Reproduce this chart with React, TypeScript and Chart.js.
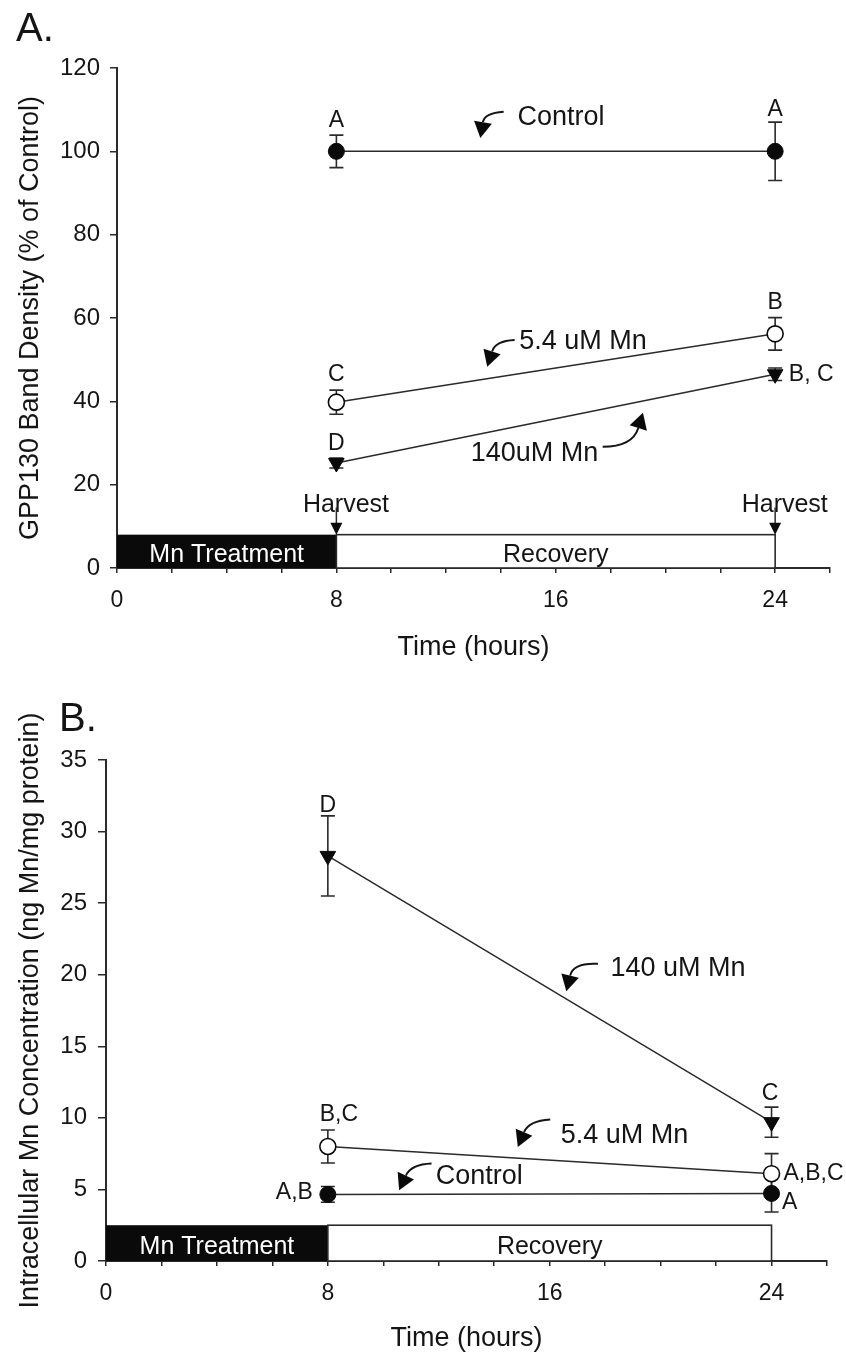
import React, { useEffect, useRef } from 'react';
import { Chart, registerables } from 'chart.js';

Chart.register(...registerables);

const FONT = "'Liberation Sans', Arial, Helvetica, sans-serif";
const INK = '#151515';
const LINE = '#2a2a2a';

// ---------- shared ----------
const hours = [8, 24];
const xTickLabels = [0, 8, 16, 24];
const treatmentSpan = [0, 8];
const recoverySpan = [8, 24];
const harvestTimes = [8, 24];

// ---------- Panel A : GPP130 band density ----------
const gppControl = [100, 100];
const gppControlErr = [3.9, 7.0];
const gpp54 = [39.8, 56.2];
const gpp54Err = [2.9, 3.9];
const gpp140 = [25.2, 46.5];
const gpp140Err = [1.2, 1.5];
const yTicksA = [0, 20, 40, 60, 80, 100, 120];

// ---------- Panel B : intracellular Mn ----------
const mnControl = [4.65, 4.72];
const mnControlErr = [0.55, 1.3];
const mn54 = [8.0, 6.1];
const mn54Err = [1.15, 1.4];
const mn140 = [28.3, 9.7];
const mn140Err = [2.8, 1.05];
const yTicksB = [0, 5, 10, 15, 20, 25, 30, 35];

// significance letters (data coordinates)
const lettersA = [
  { t: 'A', x: 8, y: 107.4, align: 'center' },
  { t: 'A', x: 24, y: 110, align: 'center' },
  { t: 'B', x: 24, y: 63.7, align: 'center' },
  { t: 'C', x: 8, y: 46.4, align: 'center' },
  { t: 'D', x: 8, y: 29.9, align: 'center' },
  { t: 'B, C', x: 24.5, y: 46.4, align: 'left' },
];
const lettersB = [
  { t: 'D', x: 8, y: 31.8, align: 'center' },
  { t: 'C', x: 23.95, y: 11.7, align: 'center' },
  { t: 'B,C', x: 8.4, y: 10.2, align: 'center' },
  { t: 'A,B,C', x: 24.43, y: 6.1, align: 'left' },
  { t: 'A,B', x: 7.46, y: 4.74, align: 'right' },
  { t: 'A', x: 24.38, y: 4.1, align: 'left' },
];

// series labels with curved arrows (data coordinates)
const notesA = [
  { t: 'Control', x: 14.6, y: 108 },
  { t: '5.4 uM Mn', x: 14.67, y: 54.3 },
  { t: '140uM Mn', x: 12.9, y: 27.5 },
];
const arrowsA = [
  { x0: 14.1, y0: 109.5, cx: 13.4, cy: 109.2, x1: 13.25, y1: 103.2 },
  { x0: 14.5, y0: 54.7, cx: 13.8, cy: 54.5, x1: 13.5, y1: 48.3 },
  { x0: 17.71, y0: 29.1, cx: 18.8, cy: 29.1, x1: 19.18, y1: 37.27 },
];
const notesB = [
  { t: '140 uM Mn', x: 18.19, y: 20.45 },
  { t: '5.4 uM Mn', x: 16.4, y: 8.79 },
  { t: 'Control', x: 11.89, y: 5.88 },
];
const arrowsB = [
  { x0: 17.74, y0: 20.76, cx: 16.85, cy: 20.85, x1: 16.6, y1: 18.85 },
  { x0: 16.02, y0: 9.88, cx: 15.25, cy: 9.8, x1: 14.85, y1: 7.97 },
  { x0: 11.74, y0: 6.81, cx: 11.0, cy: 6.75, x1: 10.57, y1: 4.95 },
];

type Series = { name: string; values: number[]; err: number[]; marker: 'filled' | 'open' | 'triangle' };

const panelA = {
  tag: 'A.',
  tagPos: [16, 41],
  yMax: 120,
  yTicks: yTicksA,
  yTitle: 'GPP130 Band Density (% of Control)',
  series: [
    { name: 'Control', values: gppControl, err: gppControlErr, marker: 'filled' },
    { name: '5.4 uM Mn', values: gpp54, err: gpp54Err, marker: 'open' },
    { name: '140 uM Mn', values: gpp140, err: gpp140Err, marker: 'triangle' },
  ] as Series[],
  letters: lettersA,
  notes: notesA,
  arrows: arrowsA,
  bandTop: 8,
  bandTextY: 3.0,
  harvest: { textY: 15.1, textDx: 0.35, lineFrom: 14.5 },
  layout: { top: 68, right: 16, bottom: 16 },
  yWidth: 117,
  xHeight: 96,
  yTickPad: 10,
  yTickLen: 7,
  xTickPad: 14,
  yTitlePad: 14,
};

const panelB = {
  tag: 'B.',
  tagPos: [59, 51],
  yMax: 35,
  yTicks: yTicksB,
  yTitle: 'Intracellular Mn Concentration (ng Mn/mg protein)',
  series: [
    { name: 'Control', values: mnControl, err: mnControlErr, marker: 'filled' },
    { name: '5.4 uM Mn', values: mn54, err: mn54Err, marker: 'open' },
    { name: '140 uM Mn', values: mn140, err: mn140Err, marker: 'triangle' },
  ] as Series[],
  letters: lettersB,
  notes: notesB,
  arrows: arrowsB,
  bandTop: 2.5,
  bandTextY: 0.98,
  harvest: null as null | { textY: number; textDx: number; lineFrom: number },
  layout: { top: 80, right: 19, bottom: 0 },
  yWidth: 106,
  xHeight: 94,
  yTickPad: 11,
  yTickLen: 8,
  xTickPad: 14,
  yTitlePad: 14.8,
};

type Panel = typeof panelA;

function arrowHead(ctx: CanvasRenderingContext2D, tx: number, ty: number, fx: number, fy: number, len: number, half: number) {
  const dx = tx - fx;
  const dy = ty - fy;
  const d = Math.hypot(dx, dy) || 1;
  const ux = dx / d;
  const uy = dy / d;
  const bx = tx - ux * len;
  const by = ty - uy * len;
  ctx.beginPath();
  ctx.moveTo(tx, ty);
  ctx.lineTo(bx - uy * half, by + ux * half);
  ctx.lineTo(bx + uy * half, by - ux * half);
  ctx.closePath();
  ctx.fill();
  return [bx, by];
}

function makeDecor(p: Panel) {
  return {
    id: 'decor' + p.tag,
    beforeDatasetsDraw(chart: any) {
      const { ctx } = chart;
      const xs = chart.scales.x;
      const ys = chart.scales.y;
      ctx.save();
      // time bar
      const y0 = ys.getPixelForValue(0);
      const y1 = ys.getPixelForValue(p.bandTop);
      const tA = xs.getPixelForValue(treatmentSpan[0]);
      const tB = xs.getPixelForValue(treatmentSpan[1]);
      const rB = xs.getPixelForValue(recoverySpan[1]);
      ctx.fillStyle = '#0a0a0a';
      ctx.fillRect(tA, y1, tB - tA, y0 - y1);
      ctx.fillStyle = '#fff';
      ctx.fillRect(tB, y1, rB - tB, y0 - y1);
      ctx.strokeStyle = LINE;
      ctx.lineWidth = 1.6;
      ctx.strokeRect(tB, y1, rB - tB, y0 - y1);
      ctx.font = `25px ${FONT}`;
      ctx.textBaseline = 'middle';
      ctx.textAlign = 'center';
      const ty = ys.getPixelForValue(p.bandTextY);
      ctx.fillStyle = '#fff';
      ctx.fillText('Mn Treatment', xs.getPixelForValue((treatmentSpan[0] + treatmentSpan[1]) / 2), ty);
      ctx.fillStyle = INK;
      ctx.fillText('Recovery', xs.getPixelForValue((recoverySpan[0] + recoverySpan[1]) / 2), ty);

      // harvest markers
      if (p.harvest) {
        const h = p.harvest;
        harvestTimes.forEach((t) => {
          const px = xs.getPixelForValue(t);
          const top = ys.getPixelForValue(h.lineFrom);
          const tip = ys.getPixelForValue(p.bandTop);
          ctx.fillStyle = INK;
          ctx.font = `25px ${FONT}`;
          ctx.textAlign = 'center';
          ctx.fillText('Harvest', xs.getPixelForValue(t + h.textDx), ys.getPixelForValue(h.textY));
          ctx.strokeStyle = LINE;
          ctx.lineWidth = 1.5;
          ctx.beginPath();
          ctx.moveTo(px, top);
          ctx.lineTo(px, tip - 10);
          ctx.stroke();
          ctx.fillStyle = '#0a0a0a';
          arrowHead(ctx, px, tip, px, top, 12, 6);
        });
      }

      // error bars
      ctx.strokeStyle = LINE;
      ctx.lineWidth = 1.6;
      p.series.forEach((s) => {
        hours.forEach((h, i) => {
          const px = xs.getPixelForValue(h);
          const a = ys.getPixelForValue(s.values[i] + s.err[i]);
          const b = ys.getPixelForValue(s.values[i] - s.err[i]);
          ctx.beginPath();
          ctx.moveTo(px, a);
          ctx.lineTo(px, b);
          ctx.moveTo(px - 7, a);
          ctx.lineTo(px + 7, a);
          ctx.moveTo(px - 7, b);
          ctx.lineTo(px + 7, b);
          ctx.stroke();
        });
      });
      ctx.restore();
    },
    afterDatasetsDraw(chart: any) {
      const { ctx } = chart;
      const xs = chart.scales.x;
      const ys = chart.scales.y;
      ctx.save();
      ctx.fillStyle = INK;
      ctx.textBaseline = 'middle';
      ctx.font = `23px ${FONT}`;
      p.letters.forEach((l) => {
        ctx.textAlign = l.align as CanvasTextAlign;
        ctx.fillText(l.t, xs.getPixelForValue(l.x), ys.getPixelForValue(l.y));
      });
      ctx.font = `27px ${FONT}`;
      ctx.textAlign = 'left';
      p.notes.forEach((n) => {
        ctx.fillText(n.t, xs.getPixelForValue(n.x), ys.getPixelForValue(n.y));
      });
      ctx.strokeStyle = INK;
      ctx.fillStyle = '#0a0a0a';
      ctx.lineWidth = 2;
      p.arrows.forEach((a) => {
        const sx = xs.getPixelForValue(a.x0);
        const sy = ys.getPixelForValue(a.y0);
        const cx = xs.getPixelForValue(a.cx);
        const cy = ys.getPixelForValue(a.cy);
        const tx = xs.getPixelForValue(a.x1);
        const ty = ys.getPixelForValue(a.y1);
        const [bx, by] = arrowHead(ctx, tx, ty, cx, cy, 16, 9);
        ctx.beginPath();
        ctx.moveTo(sx, sy);
        ctx.quadraticCurveTo(cx, cy, bx, by);
        ctx.stroke();
      });
      // panel tag
      ctx.font = `40px ${FONT}`;
      ctx.textBaseline = 'alphabetic';
      ctx.textAlign = 'left';
      ctx.fillStyle = INK;
      ctx.fillText(p.tag, p.tagPos[0], p.tagPos[1]);
      ctx.restore();
    },
  };
}

function buildConfig(p: Panel): any {
  return {
    type: 'line',
    data: {
      datasets: p.series.map((s) => ({
        label: s.name,
        data: hours.map((h, i) => ({ x: h, y: s.values[i] })),
        borderColor: LINE,
        borderWidth: 1.5,
        fill: false,
        tension: 0,
        pointStyle: s.marker === 'triangle' ? 'triangle' : 'circle',
        rotation: s.marker === 'triangle' ? 180 : 0,
        pointRotation: s.marker === 'triangle' ? 180 : 0,
        pointRadius: s.marker === 'triangle' ? 9 : 8,
        pointBackgroundColor: s.marker === 'open' ? '#fff' : '#0a0a0a',
        pointBorderColor: '#0a0a0a',
        pointBorderWidth: s.marker === 'open' ? 1.6 : 1,
        clip: false,
      })),
    },
    options: {
      responsive: false,
      animation: false,
      devicePixelRatio: 1,
      layout: { padding: { top: p.layout.top, left: 0, right: p.layout.right, bottom: p.layout.bottom } },
      plugins: { legend: { display: false }, tooltip: { enabled: false } },
      events: [],
      scales: {
        x: {
          type: 'linear',
          min: 0,
          max: 26,
          ticks: {
            stepSize: 2,
            autoSkip: false,
            maxRotation: 0,
            padding: p.xTickPad,
            color: INK,
            font: { size: 23, family: FONT },
            callback: (v: number) => (xTickLabels.includes(v) ? String(v) : ''),
          },
          grid: { drawOnChartArea: false, drawTicks: true, tickLength: 5, color: LINE, lineWidth: 1.5 },
          border: { display: true, color: LINE, width: 2 },
          title: {
            display: true,
            text: 'Time (hours)',
            color: INK,
            font: { size: 27, family: FONT },
            padding: { top: 0, bottom: 0 },
          },
          afterFit: (s: any) => {
            s.height = p.xHeight;
          },
        },
        y: {
          type: 'linear',
          min: 0,
          max: p.yMax,
          afterBuildTicks: (s: any) => {
            s.ticks = p.yTicks.map((v) => ({ value: v }));
          },
          ticks: { padding: p.yTickPad, color: INK, font: { size: 24, family: FONT } },
          grid: { drawOnChartArea: false, drawTicks: true, tickLength: p.yTickLen, color: LINE, lineWidth: 1.5 },
          border: { display: true, color: LINE, width: 2 },
          title: {
            display: true,
            text: p.yTitle,
            color: INK,
            font: { size: 27, family: FONT },
            padding: { top: p.yTitlePad, bottom: 0 },
          },
          afterFit: (s: any) => {
            s.width = p.yWidth;
          },
        },
      },
    },
    plugins: [makeDecor(p)],
  };
}

function PanelChart({ spec, top, height }: { spec: Panel; top: number; height: number }) {
  const ref = useRef<HTMLCanvasElement>(null);
  useEffect(() => {
    const chart = new Chart(ref.current as HTMLCanvasElement, buildConfig(spec));
    return () => chart.destroy();
  }, [spec]);
  return (
    <canvas
      ref={ref}
      width={846}
      height={height}
      style={{ position: 'absolute', left: 0, top, width: 846, height }}
    />
  );
}

export default function App() {
  return (
    <div style={{ position: 'absolute', left: 0, top: 0, width: 846, height: 1355, background: '#fff' }}>
      <PanelChart spec={panelA} top={0} height={680} />
      <PanelChart spec={panelB as unknown as Panel} top={680} height={675} />
    </div>
  );
}
